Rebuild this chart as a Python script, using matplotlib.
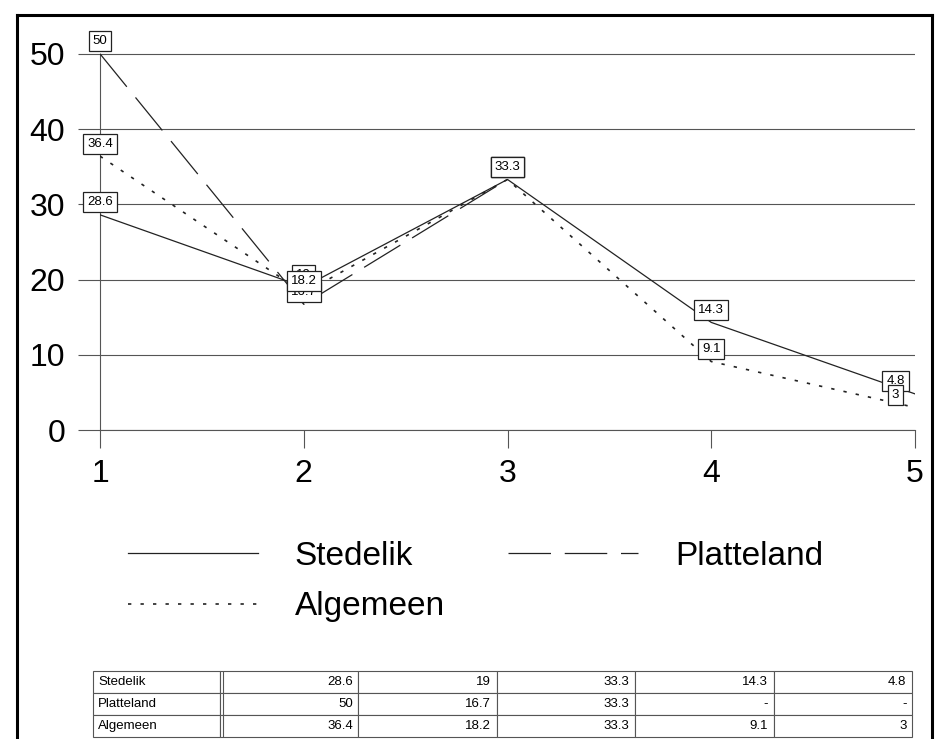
import numpy as np
import matplotlib
matplotlib.use("Agg")
import matplotlib.pyplot as plt
from matplotlib.lines import Line2D

plt.rcParams['font.family'] = ['Liberation Sans', 'DejaVu Sans']

# data
x = [1, 2, 3, 4, 5]
stedelik = [28.6, 19, 33.3, 14.3, 4.8]
platteland = [50, 16.7, 33.3, np.nan, np.nan]
algemeen = [36.4, 18.2, 33.3, 9.1, 3]
series_names = ["Stedelik", "Platteland", "Algemeen"]
y_ticks = [0, 10, 20, 30, 40, 50]

INK = "#222222"
GRID = "#555555"

fig = plt.figure(figsize=(9.41, 7.39), dpi=100)
W, H = 941, 739

# main plot area
ax = fig.add_axes([100 / W, 1 - 430 / H, 815 / W, 398 / H])
ax.set_xlim(1, 5)
ax.set_ylim(0, 52.9)

styles = {
    "Stedelik": dict(linestyle="-", lw=0.9),
    "Platteland": dict(linestyle=(0, (34, 11)), lw=0.9),
    "Algemeen": dict(linestyle=(0, (2, 5.5)), lw=1.2),
}
data = {"Stedelik": stedelik, "Platteland": platteland, "Algemeen": algemeen}

handles = {}
for k, name in enumerate(series_names):
    vals = data[name]
    (ln,) = ax.plot(x, vals, color=INK, label=name, zorder=3, **styles[name])
    handles[name] = ln
    for xi, v in zip(x, vals):
        if np.isnan(v):
            continue
        dx = -14 if xi == 5 else 0
        ax.annotate(f"{v:g}", (xi, v), xytext=(dx, 9), textcoords="offset points",
                    ha="center", va="center", fontsize=9.5, color="black",
                    bbox=dict(boxstyle="square,pad=0.3", fc="white", ec=INK, lw=0.9),
                    zorder=5 + k, annotation_clip=False)

ax.set_yticks(y_ticks)
ax.set_xticks(x)
ax.yaxis.grid(True, color=GRID, lw=0.8)
ax.set_axisbelow(True)
for s in ["top", "right"]:
    ax.spines[s].set_visible(False)
ax.spines["left"].set_bounds(0, 50)
ax.spines["left"].set_color(GRID)
ax.spines["bottom"].set_color(GRID)
ax.spines["left"].set_linewidth(0.8)
ax.spines["bottom"].set_linewidth(0.8)
ax.tick_params(axis="y", length=16, width=0.8, color=GRID, pad=9, labelsize=23)
ax.tick_params(axis="x", length=13, width=0.8, color=GRID, pad=8, labelsize=23)

# legend: Stedelik / Algemeen in the first column, Platteland in the second
leg = fig.legend([handles["Stedelik"], handles["Algemeen"], handles["Platteland"]],
                 ["Stedelik", "Algemeen", "Platteland"],
                 ncol=2, loc="upper left", bbox_to_anchor=(128 / W, 1 - 541 / H),
                 frameon=False, fontsize=24, handlelength=3.9, borderpad=0,
                 borderaxespad=0, handletextpad=1.1, columnspacing=1.9,
                 labelspacing=0.58)

# data table
tax = fig.add_axes([93 / W, 1 - 737 / H, 819 / W, 66 / H])
tax.axis("off")
cell_text = []
for name in series_names:
    row = [name] + ["-" if np.isnan(v) else f"{v:g}" for v in data[name]]
    cell_text.append(row)
lab_w = 127 / 819
col_w = (1 - lab_w) / 5
tbl = tax.table(cellText=cell_text, colWidths=[lab_w] + [col_w] * 5,
                bbox=[0, 0, 1, 1], cellLoc="right")
tbl.auto_set_font_size(False)
tbl.set_fontsize(9.5)
for (r, c), cell in tbl.get_celld().items():
    cell.set_edgecolor(GRID)
    cell.set_linewidth(0.8)
    cell.PAD = 0.04
    if c == 0:
        cell.get_text().set_ha("left")
        cell._loc = "left"
# double rule after the row-label column
tax.axvline(lab_w + 0.004, color=GRID, lw=0.8)

# outer frame of the scanned page
fig.add_artist(Line2D([17 / W, 17 / W], [0, 1 - 15 / H], color="black", lw=2.2))
fig.add_artist(Line2D([17 / W, 932 / W], [1 - 15 / H, 1 - 15 / H], color="black", lw=2.2))
fig.add_artist(Line2D([932 / W, 932 / W], [1 - 15 / H, 0], color="black", lw=2.2))

fig.savefig("out.png", dpi=100)
